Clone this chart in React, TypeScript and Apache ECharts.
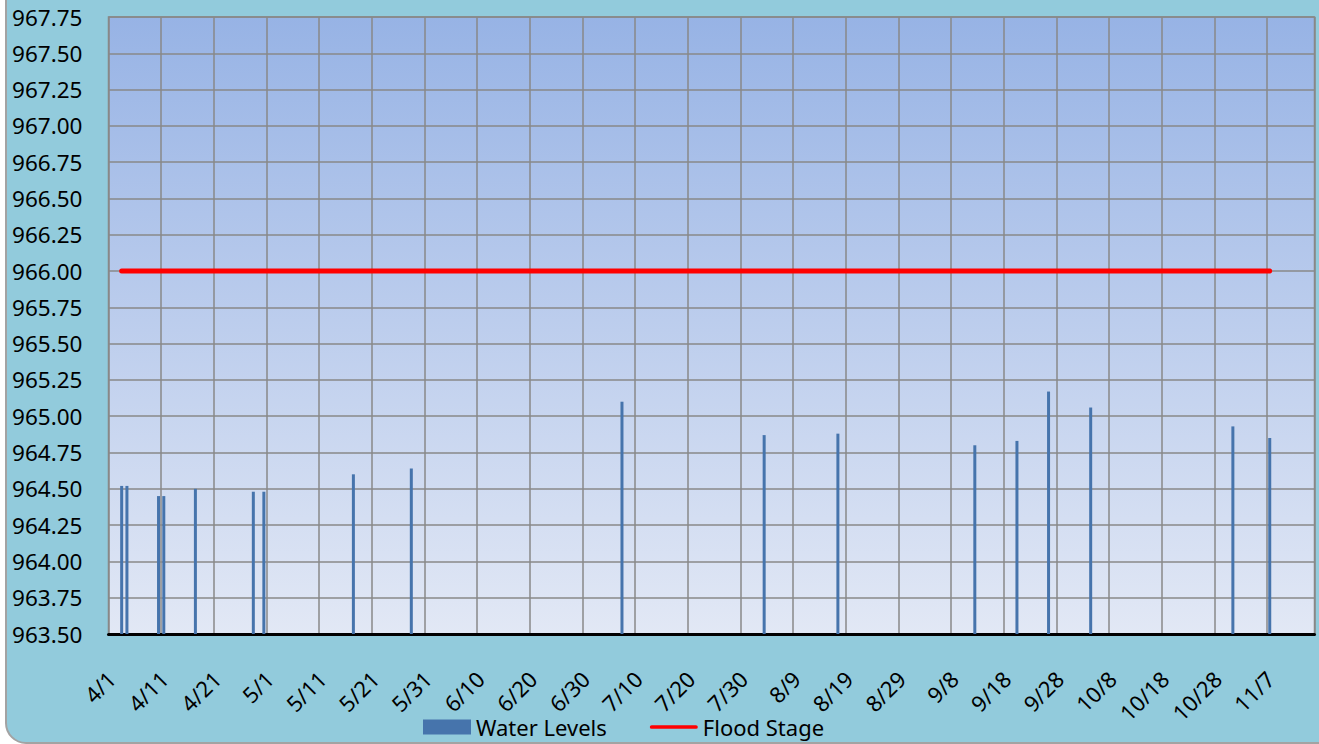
import React, { useEffect, useRef } from "react";
import * as echarts from "echarts";

// ---- data ----
const axisStartDate = "4/1";
const axisEndDate = "11/16";
const readingDates = [
  "4/3", "4/4", "4/10", "4/11", "4/17", "4/28", "4/30", "5/17", "5/28",
  "7/7", "8/3", "8/17", "9/12", "9/20", "9/26", "10/4", "10/31", "11/7",
];
const waterLevels = [
  964.52, 964.52, 964.45, 964.45, 964.5, 964.48, 964.48, 964.6, 964.64,
  965.1, 964.87, 964.88, 964.8, 964.83, 965.17, 965.06, 964.93, 964.85,
];
const floodStage = [
  966.0, 966.0, 966.0, 966.0, 966.0, 966.0, 966.0, 966.0, 966.0,
  966.0, 966.0, 966.0, 966.0, 966.0, 966.0, 966.0, 966.0, 966.0,
];
const xTickLabels = [
  "4/1", "4/11", "4/21", "5/1", "5/11", "5/21", "5/31", "6/10", "6/20", "6/30",
  "7/10", "7/20", "7/30", "8/9", "8/19", "8/29", "9/8", "9/18", "9/28", "10/8",
  "10/18", "10/28", "11/7",
];
const yMin = 963.5;
const yMax = 967.75;
const yStep = 0.25;
const xStepDays = 10;
const seriesNames = ["Water Levels", "Flood Stage"];

const DAY = 86400000;
function toTime(md: string) {
  const [m, d] = md.split("/").map(Number);
  return Date.UTC(2013, m - 1, d);
}
function dayOffset(md: string) {
  return Math.round((toTime(md) - toTime(axisStartDate)) / DAY);
}

const FONT = "Noto Sans";
const LINE_ICON = "path://M2,0 H50 A2,2 0 0 1 50,4 H2 A2,2 0 0 1 2,0 Z";

export default function App() {
  const ref = useRef<HTMLDivElement>(null);
  useEffect(() => {
    if (!ref.current) return;
    const chart = echarts.init(ref.current, undefined, { renderer: "svg" });
    const xs = readingDates.map((d) => dayOffset(d) + 0.5);
    const option: any = {
      animation: false,
      backgroundColor: "#ffffff",
      textStyle: { fontFamily: FONT },
      graphic: [
        {
          type: "rect",
          z: -10,
          silent: true,
          shape: { x: 6, y: -40, width: 1400, height: 783, r: 20 },
          style: { fill: "#92CBDC", stroke: "#A3A3A3", lineWidth: 2 },
        },
      ],
      grid: {
        left: 108.5,
        right: 4.5,
        top: 17,
        bottom: 110,
        show: true,
        borderColor: "#888888",
        borderWidth: 1.5,
        backgroundColor: {
          type: "linear",
          x: 0,
          y: 0,
          x2: 0,
          y2: 1,
          colorStops: [
            { offset: 0, color: "#97B3E5" },
            { offset: 1, color: "#E2E8F5" },
          ],
        },
      },
      legend: {
        left: 423,
        top: 716,
        padding: 0,
        itemWidth: 48,
        itemHeight: 15,
        itemGap: 43,
        textStyle: { fontSize: 22, color: "#000", fontFamily: FONT },
        data: [
          { name: seriesNames[0], icon: "rect" },
          { name: seriesNames[1], icon: LINE_ICON },
        ],
      },
      xAxis: {
        type: "value",
        min: 0,
        max: dayOffset(axisEndDate),
        interval: xStepDays,
        axisLine: { show: true, onZero: false, lineStyle: { color: "#000", width: 3 } },
        axisTick: { show: false },
        splitLine: { show: true, lineStyle: { color: "#888888", width: 1.5 } },
        axisLabel: {
          rotate: 45,
          margin: 28,
          fontSize: 22,
          color: "#000",
          fontFamily: FONT,
          align: "right",
          verticalAlign: "top",
          padding: [0, 7, 0, 0],
          showMaxLabel: false,
          formatter: (v: number) =>
            v % xStepDays === 0 ? xTickLabels[v / xStepDays] ?? "" : "",
        },
      },
      yAxis: {
        type: "value",
        min: yMin,
        max: yMax,
        interval: yStep,
        axisLine: { show: false },
        axisTick: { show: false },
        splitLine: { show: true, lineStyle: { color: "#888888", width: 1.5 } },
        axisLabel: {
          margin: 26,
          fontSize: 22.5,
          color: "#000",
          fontFamily: FONT,
          formatter: (v: number) => v.toFixed(2),
        },
      },
      series: [
        {
          name: seriesNames[0],
          type: "bar",
          barWidth: 3,
          itemStyle: { color: "#4674AC" },
          data: xs.map((x, i) => [x, waterLevels[i]]),
          z: 2,
        },
        {
          name: seriesNames[1],
          type: "line",
          symbol: "none",
          lineStyle: { color: "#FF0000", width: 5, cap: "round" },
          itemStyle: { color: "#FF0000" },
          data: xs.map((x, i) => [x, floodStage[i]]),
          z: 3,
        },
      ],
    };
    chart.setOption(option);
    return () => chart.dispose();
  }, []);
  return (
    <div
      ref={ref}
      style={{ position: "fixed", left: 0, top: 0, width: 1319, height: 744 }}
    />
  );
}
